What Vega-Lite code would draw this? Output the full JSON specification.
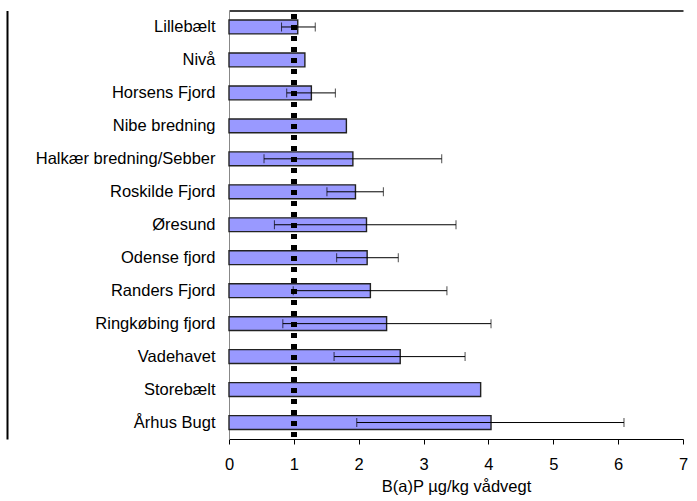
{
  "$schema": "https://vega.github.io/schema/vega-lite/v6.json",
  "autosize": {"type": "none"},
  "padding": {"left": 229, "top": 10.5, "right": 14, "bottom": 62},
  "width": 454,
  "height": 428.5,
  "background": "white",
  "config": {
    "view": {"stroke": null},
    "font": "Liberation Sans",
    "axis": {"labelFont": "Liberation Sans", "titleFont": "Liberation Sans", "grid": false}
  },
  "data": {
    "values": [
      {"site": "Lillebælt", "mean": 1.06, "lo": 0.81, "hi": 1.33},
      {"site": "Nivå", "mean": 1.17, "lo": null, "hi": null},
      {"site": "Horsens Fjord", "mean": 1.27, "lo": 0.89, "hi": 1.64},
      {"site": "Nibe bredning", "mean": 1.81, "lo": null, "hi": null},
      {"site": "Halkær bredning/Sebber", "mean": 1.91, "lo": 0.54, "hi": 3.28},
      {"site": "Roskilde Fjord", "mean": 1.95, "lo": 1.51, "hi": 2.38},
      {"site": "Øresund", "mean": 2.12, "lo": 0.7, "hi": 3.5},
      {"site": "Odense fjord", "mean": 2.13, "lo": 1.66, "hi": 2.61},
      {"site": "Randers Fjord", "mean": 2.18, "lo": 0.99, "hi": 3.36},
      {"site": "Ringkøbing fjord", "mean": 2.43, "lo": 0.83, "hi": 4.04},
      {"site": "Vadehavet", "mean": 2.64, "lo": 1.62, "hi": 3.64},
      {"site": "Storebælt", "mean": 3.88, "lo": null, "hi": null},
      {"site": "Århus Bugt", "mean": 4.04, "lo": 1.97, "hi": 6.09}
    ]
  },
  "resolve": {"axis": {"x": "independent", "y": "independent"}},
  "layer": [
    {
      "mark": {"type": "bar", "fill": "#9999FF", "stroke": "#222222", "strokeWidth": 1.4, "height": {"band": 0.42}},
      "encoding": {
        "y": {
          "field": "site", "type": "nominal", "sort": null,
          "scale": {"paddingInner": 0, "paddingOuter": 0},
          "axis": {
            "title": null, "ticks": false, "labelPadding": 14,
            "labelFontSize": 16.5, "labelColor": "#000000",
            "domainColor": "#888888", "domainWidth": 1
          }
        },
        "x": {
          "field": "mean", "type": "quantitative",
          "scale": {"domain": [0, 7], "nice": false, "zero": true},
          "axis": {
            "title": "B(a)P µg/kg vådvegt", "values": [0, 1, 2, 3, 4, 5, 6, 7],
            "format": "d", "labelFontSize": 16.5, "labelColor": "#000000",
            "labelFlush": false, "labelOverlap": false,
            "labelPadding": 12, "tickSize": 5, "tickColor": "#000000",
            "domainColor": "#000000", "titleFontSize": 16.5,
            "titleFontWeight": "normal", "titleColor": "#000000", "titlePadding": 6
          }
        }
      }
    },
    {
      "transform": [{"filter": "datum.lo != null"}],
      "mark": {"type": "rule", "color": "#000000", "strokeWidth": 1},
      "encoding": {
        "y": {
          "field": "site", "type": "nominal", "sort": null,
          "axis": {
            "orient": "left", "offset": 222, "labels": false, "ticks": false,
            "title": null, "domainColor": "#000000", "domainWidth": 2
          }
        },
        "x": {"field": "lo", "type": "quantitative", "axis": null},
        "x2": {"field": "hi"}
      }
    },
    {
      "transform": [{"filter": "datum.lo != null"}],
      "mark": {"type": "tick", "color": "#000000", "thickness": 1, "size": 9, "orient": "vertical"},
      "encoding": {
        "y": {"field": "site", "type": "nominal", "sort": null, "axis": null},
        "x": {"field": "lo", "type": "quantitative", "axis": null}
      }
    },
    {
      "transform": [{"filter": "datum.hi != null"}],
      "mark": {"type": "tick", "color": "#000000", "thickness": 1, "size": 9, "orient": "vertical"},
      "encoding": {
        "y": {"field": "site", "type": "nominal", "sort": null, "axis": null},
        "x": {"field": "hi", "type": "quantitative", "axis": null}
      }
    },
    {
      "mark": {"type": "rule", "color": "#000000", "strokeWidth": 5, "strokeDash": [5, 6], "strokeDashOffset": 7.5},
      "encoding": {
        "x": {
          "datum": 1, "type": "quantitative",
          "axis": {
            "orient": "top", "labels": false, "ticks": false, "title": null,
            "domainColor": "#000000", "domainWidth": 1.5
          }
        }
      }
    }
  ]
}
